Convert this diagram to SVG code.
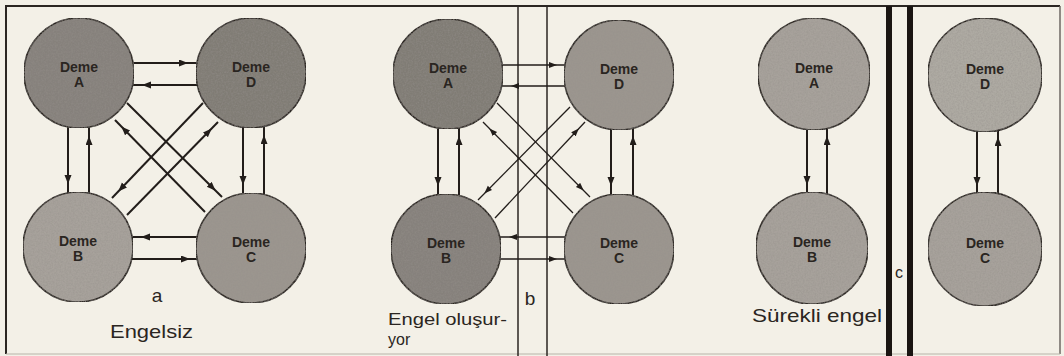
<svg xmlns="http://www.w3.org/2000/svg" width="1064" height="356" viewBox="0 0 1064 356">
<style>
.bg{fill:#f3f0e7}
.frame{stroke:#2b2622;stroke-width:2;fill:none}
.deme{stroke:#2b2622;stroke-width:1.6}
.dark{fill:#86817b}
.mid{fill:#9b968f}
.light{fill:#a7a29b}
.lbl{font-family:"Liberation Sans",Arial,sans-serif;font-size:14px;font-weight:bold;fill:#2a2521;text-anchor:middle}
.cap{font-family:"Liberation Sans",Arial,sans-serif;font-size:19px;fill:#2a2521}
.c{stroke:#221d1a;stroke-width:2;fill:none;marker-end:url(#ah)}
.t{stroke:#221d1a;stroke-width:1.3;fill:none;marker-end:url(#ahs)}
</style>
<defs>
<marker id="ah" markerUnits="userSpaceOnUse" markerWidth="22" markerHeight="10" refX="18" refY="3.5" orient="auto">
<path d="M0,0 L9,3.5 L0,7 z" fill="#221d1a"/>
</marker>
<marker id="ahs" markerUnits="userSpaceOnUse" markerWidth="22" markerHeight="10" refX="17" refY="3" orient="auto">
<path d="M0,0 L8,3 L0,6 z" fill="#221d1a"/>
</marker>
<filter id="grain" x="0" y="0" width="100%" height="100%">
<feTurbulence type="fractalNoise" baseFrequency="0.6" numOctaves="2" seed="4" result="n"/>
<feColorMatrix in="n" type="matrix" values="0 0 0 0 0.3  0 0 0 0 0.28  0 0 0 0 0.26  0 0 0 0.9 -0.3" result="g"/>
<feComposite in="g" in2="SourceGraphic" operator="in" result="gi"/>
<feMerge><feMergeNode in="SourceGraphic"/><feMergeNode in="gi"/></feMerge>
</filter>
</defs>
<rect class="bg" x="0" y="0" width="1064" height="356"/>
<g id="frame">
<line class="frame" x1="6" y1="6" x2="1060" y2="6"/>
<line class="frame" x1="6" y1="5" x2="6" y2="354"/>
<line x1="1060" y1="6" x2="1060" y2="354" stroke="#6e6963" stroke-width="1.5"/>
<line x1="6" y1="354" x2="1060" y2="354" stroke="#b8b3aa" stroke-width="1.2"/>
<line x1="518" y1="6" x2="518" y2="356" stroke="#2b2622" stroke-width="1.5"/>
<line x1="547" y1="6" x2="547" y2="356" stroke="#2b2622" stroke-width="1.5"/>
<line x1="889" y1="6" x2="889" y2="356" stroke="#1a1512" stroke-width="6"/>
<line x1="910" y1="6" x2="910" y2="356" stroke="#1a1512" stroke-width="6"/>
</g>
<g id="connectors">
<!-- panel a -->
<line class="c" x1="133" y1="63" x2="197" y2="63"/>
<line class="c" x1="197" y1="85" x2="133" y2="85"/>
<line class="c" x1="197" y1="237" x2="132" y2="237"/>
<line class="c" x1="132" y1="259" x2="199" y2="259"/>
<line class="c" x1="68" y1="127" x2="68" y2="193"/>
<line class="c" x1="89" y1="193" x2="89" y2="127"/>
<line class="c" x1="243" y1="127" x2="243" y2="194"/>
<line class="c" x1="264" y1="194" x2="264" y2="126"/>
<line class="c" x1="127" y1="103" x2="222" y2="197"/>
<line class="c" x1="205" y1="212" x2="115" y2="120"/>
<line class="c" x1="203" y1="103" x2="112" y2="198"/>
<line class="c" x1="127" y1="215" x2="218" y2="122"/>
<!-- panel b -->
<line class="t" x1="502" y1="65" x2="566" y2="65"/>
<line class="t" x1="565" y1="86" x2="502" y2="86"/>
<line class="t" x1="565" y1="237" x2="500" y2="237"/>
<line class="t" x1="500" y1="259" x2="566" y2="259"/>
<line class="c" x1="438" y1="128" x2="438" y2="195"/>
<line class="c" x1="459" y1="195" x2="459" y2="127"/>
<line class="c" x1="611" y1="129" x2="611" y2="195"/>
<line class="c" x1="633" y1="195" x2="633" y2="127"/>
<line class="t" x1="497" y1="103" x2="590" y2="197"/>
<line class="t" x1="573" y1="213" x2="483" y2="122"/>
<line class="t" x1="570" y1="107" x2="478" y2="200"/>
<line class="t" x1="495" y1="218" x2="585" y2="122"/>
<!-- panel c -->
<line class="c" x1="807" y1="128" x2="807" y2="194"/>
<line class="c" x1="827" y1="194" x2="827" y2="127"/>
<line class="c" x1="977" y1="129" x2="977" y2="195"/>
<line class="c" x1="998" y1="195" x2="998" y2="128"/>
</g>
<g id="a-demeA"><circle class="deme dark" cx="79" cy="73" r="55" filter="url(#grain)"/><text class="lbl" x="79" y="72">Deme</text><text class="lbl" x="79" y="87">A</text></g>
<g id="a-demeD"><circle class="deme dark" cx="251" cy="73" r="55" filter="url(#grain)" style="fill:#807b75"/><text class="lbl" x="251" y="72">Deme</text><text class="lbl" x="251" y="87">D</text></g>
<g id="a-demeB"><circle class="deme light" cx="78" cy="247" r="55" filter="url(#grain)"/><text class="lbl" x="78" y="246">Deme</text><text class="lbl" x="78" y="261">B</text></g>
<g id="a-demeC"><circle class="deme mid" cx="251" cy="248" r="55" filter="url(#grain)"/><text class="lbl" x="251" y="247">Deme</text><text class="lbl" x="251" y="262">C</text></g>
<g id="b-demeA"><circle class="deme dark" cx="448" cy="74" r="55" filter="url(#grain)" style="fill:#807b75"/><text class="lbl" x="448" y="73">Deme</text><text class="lbl" x="448" y="88">A</text></g>
<g id="b-demeD"><circle class="deme mid" cx="619" cy="75" r="55" filter="url(#grain)"/><text class="lbl" x="619" y="74">Deme</text><text class="lbl" x="619" y="89">D</text></g>
<g id="b-demeB"><circle class="deme dark" cx="446" cy="249" r="55" filter="url(#grain)"/><text class="lbl" x="446" y="248">Deme</text><text class="lbl" x="446" y="263">B</text></g>
<g id="b-demeC"><circle class="deme mid" cx="619" cy="249" r="55" filter="url(#grain)"/><text class="lbl" x="619" y="248">Deme</text><text class="lbl" x="619" y="263">C</text></g>
<g id="c-demeA"><circle class="deme light" cx="814" cy="74" r="56" filter="url(#grain)"/><text class="lbl" x="814" y="73">Deme</text><text class="lbl" x="814" y="88">A</text></g>
<g id="c-demeB"><circle class="deme light" cx="812" cy="248" r="56" filter="url(#grain)"/><text class="lbl" x="812" y="247">Deme</text><text class="lbl" x="812" y="262">B</text></g>
<g id="c-demeD"><circle class="deme light" cx="985" cy="75" r="57" filter="url(#grain)" style="fill:#aeaaa3"/><text class="lbl" x="985" y="74">Deme</text><text class="lbl" x="985" y="89">D</text></g>
<g id="c-demeC"><circle class="deme light" cx="985" cy="249" r="57" filter="url(#grain)"/><text class="lbl" x="985" y="248">Deme</text><text class="lbl" x="985" y="263">C</text></g>
<g id="captions">
<text class="cap" x="157" y="302" text-anchor="middle">a</text>
<text class="cap" x="110" y="338" textLength="83" lengthAdjust="spacingAndGlyphs">Engelsiz</text>
<text class="cap" x="530" y="305" text-anchor="middle">b</text>
<text class="cap" x="388" y="325" textLength="119" lengthAdjust="spacingAndGlyphs" style="font-size:16px">Engel oluşur-</text>
<text class="cap" x="388" y="345" style="font-size:16px">yor</text>
<text class="cap" x="752" y="322" textLength="130" lengthAdjust="spacingAndGlyphs">Sürekli engel</text>
<text class="cap" x="899" y="278" text-anchor="middle" style="font-size:16px">c</text>
</g>
</svg>
